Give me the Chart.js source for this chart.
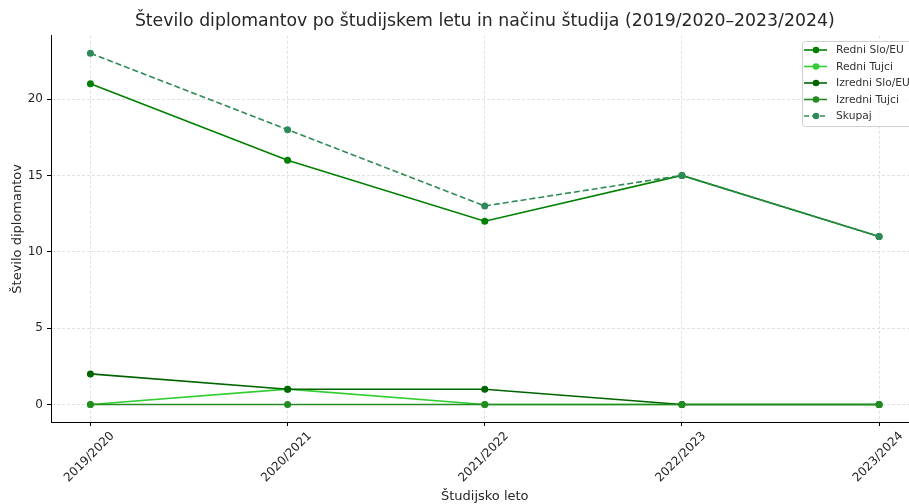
<!DOCTYPE html>
<html>
<head>
<meta charset="utf-8">
<script src="https://cdn.jsdelivr.net/npm/chart.js@4"></script>
<style>
  html, body { margin: 0; padding: 0; background: #fff; overflow: hidden; }
  #wrap { width: 922px; height: 504px; position: relative; }
</style>
</head>
<body>
<div id="wrap"><canvas id="chart"></canvas></div>
<script>
const years = ['2019/2020', '2020/2021', '2021/2022', '2022/2023', '2023/2024'];
const redniSlo = [21, 16, 12, 15, 11];
const redniTujci = [0, 1, 0, 0, 0];
const izredniSlo = [2, 1, 1, 0, 0];
const izredniTujci = [0, 0, 0, 0, 0];
const skupaj = [23, 18, 13, 15, 11];
const yTicks = [0, 5, 10, 15, 20];

const FONT = "'DejaVu Sans', sans-serif";

function pts(vals) {
  return vals.map((v, i) => ({ x: i, y: v }));
}

function series(label, vals, color, order, dash) {
  return {
    label: label,
    data: pts(vals),
    borderColor: color,
    backgroundColor: color,
    borderWidth: 1.6,
    borderDash: dash || [],
    pointRadius: 3.5,
    pointHoverRadius: 3.5,
    pointBorderWidth: 0,
    tension: 0,
    fill: false,
    order: order
  };
}

// legend like matplotlib's, drawn in the upper right of the plot
const mplLegend = {
  id: 'mplLegend',
  afterDraw(chart) {
    const ctx = chart.ctx;
    const sets = chart.data.datasets;
    const x0 = 802, y0 = 41, rowH = 16.5;
    ctx.save();
    ctx.fillStyle = 'rgba(255,255,255,0.8)';
    ctx.strokeStyle = '#d0d0d0';
    ctx.lineWidth = 1;
    ctx.beginPath();
    ctx.roundRect(x0 + 0.5, y0 + 0.5, 140, 85, 3);
    ctx.fill();
    ctx.stroke();
    ctx.font = '10.7px ' + FONT;
    ctx.textBaseline = 'middle';
    sets.forEach((d, i) => {
      const y = y0 + 9 + i * rowH;
      ctx.strokeStyle = d.borderColor;
      ctx.lineWidth = d.borderWidth;
      ctx.setLineDash(d.borderDash.length ? [5, 3] : []);
      ctx.beginPath();
      ctx.moveTo(x0 + 2, y);
      ctx.lineTo(x0 + 25, y);
      ctx.stroke();
      ctx.setLineDash([]);
      ctx.fillStyle = d.backgroundColor;
      ctx.beginPath();
      ctx.arc(x0 + 14, y, 3.3, 0, Math.PI * 2);
      ctx.fill();
      ctx.fillStyle = '#333';
      ctx.fillText(d.label, x0 + 34, y + 0.5);
    });
    ctx.restore();
  }
};

new Chart(document.getElementById('chart'), {
  type: 'line',
  data: {
    datasets: [
      series('Redni Slo/EU', redniSlo, '#008000', 4),
      series('Redni Tujci', redniTujci, '#32cd32', 3),
      series('Izredni Slo/EU', izredniSlo, '#006400', 2),
      series('Izredni Tujci', izredniTujci, '#228b22', 1),
      series('Skupaj', skupaj, '#2e8b57', 0, [6, 3])
    ]
  },
  options: {
    responsive: true,
    maintainAspectRatio: false,
    animation: false,
    layout: { padding: { left: 0, right: 0.5, top: 0, bottom: 0 } },
    plugins: {
      legend: { display: false },
      tooltip: { enabled: false },
      title: {
        display: true,
        fullSize: false,
        text: 'Število diplomantov po študijskem letu in načinu študija (2019/2020–2023/2024)',
        font: { family: FONT, size: 17.3, weight: 'normal' },
        color: '#262626',
        padding: { top: 11, bottom: 4 }
      }
    },
    scales: {
      x: {
        type: 'linear',
        min: -0.2,
        max: 4.2,
        afterFit(s) { s.height = 82; },
        afterBuildTicks(s) { s.ticks = years.map((_, i) => ({ value: i })); },
        ticks: {
          callback: v => years[v],
          maxRotation: 45,
          minRotation: 45,
          labelOffset: 22,
          padding: 3,
          color: '#262626',
          font: { family: FONT, size: 12 }
        },
        grid: {
          color: '#d9d9d9',
          lineWidth: 0.8,
          tickColor: '#000',
          tickLength: 4,
          tickWidth: 1
        },
        border: { display: true, color: '#000', width: 1, dash: [3, 2] },
        title: {
          display: true,
          text: 'Študijsko leto',
          color: '#262626',
          font: { family: FONT, size: 13 },
          padding: { top: 0, bottom: -0.5 }
        }
      },
      y: {
        type: 'linear',
        min: -1.15,
        max: 24.15,
        afterFit(s) { s.width = 51; },
        afterBuildTicks(s) { s.ticks = yTicks.map(v => ({ value: v })); },
        ticks: {
          padding: 4,
          color: '#262626',
          font: { family: FONT, size: 12 }
        },
        grid: {
          color: '#d9d9d9',
          lineWidth: 0.8,
          tickColor: '#000',
          tickLength: 4,
          tickWidth: 1
        },
        border: { display: true, color: '#000', width: 1, dash: [3, 2] },
        title: {
          display: true,
          text: 'Število diplomantov',
          color: '#262626',
          font: { family: FONT, size: 13 },
          padding: { top: 10, bottom: 0 }
        }
      }
    }
  },
  plugins: [mplLegend]
});
</script>
</body>
</html>
